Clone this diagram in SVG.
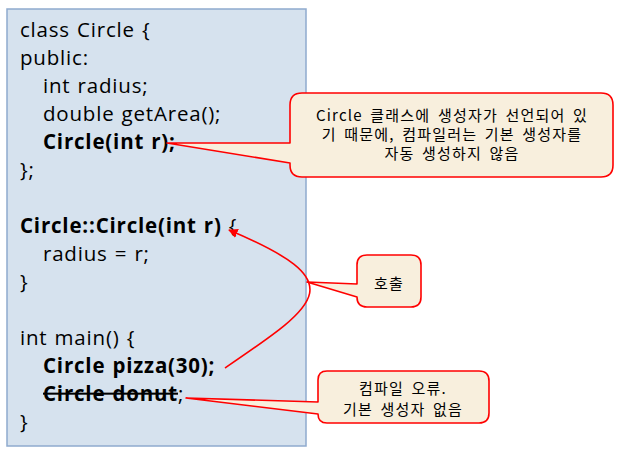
<svg xmlns="http://www.w3.org/2000/svg" width="618" height="463" viewBox="0 0 618 463">
<style>
.code{font-family:"Open Sans","Liberation Sans",sans-serif;font-size:20.5px;fill:#000;letter-spacing:0.8px;word-spacing:1px}
.b{font-weight:bold}
.ko{font-family:"Noto Sans CJK KR","Noto Sans",sans-serif;font-size:15px;fill:#000;letter-spacing:1.2px;word-spacing:3px;text-anchor:middle}
.callout{fill:#F8EFDD;stroke:#FF0000;stroke-width:1.6;stroke-linejoin:round}
.conn{fill:none;stroke:#FF0000;stroke-width:1.6}
</style>
<defs>
<marker id="ah" viewBox="0 0 10 10" refX="9" refY="5" markerWidth="6" markerHeight="6" orient="auto" markerUnits="strokeWidth">
<path d="M0,0 L10,5 L0,10 Z" fill="#FF0000"/>
</marker>
</defs>
<rect width="618" height="463" fill="#FFFFFF"/>
<g id="code">
<rect x="7" y="9" width="299" height="437" fill="#D6E2EE" stroke="#8FAACE" stroke-width="1.5"/>
<text class="code" x="20" y="37">class Circle {</text>
<text class="code" x="20" y="65">public:</text>
<text class="code" x="43" y="93">int radius;</text>
<text class="code" x="43" y="121">double getArea();</text>
<text class="code b" x="43" y="149">Circle(int r);</text>
<text class="code" x="20" y="177">};</text>
<text class="code" x="20" y="233"><tspan class="b">Circle::Circle(int r)</tspan> {</text>
<text class="code" x="43" y="261">radius = r;</text>
<text class="code" x="20" y="289">}</text>
<text class="code" x="20" y="345">int main() {</text>
<text class="code b" x="43" y="373">Circle pizza(30);</text>
<text class="code" x="43" y="401"><tspan class="b" text-decoration="line-through">Circle donut</tspan>;</text>
<text class="code" x="20" y="429">}</text>
</g>
<g id="connectors">
<path class="conn" d="M225,368 C322,302 352,282 229,230" marker-end="url(#ah)"/>
</g>
<g id="note-default-ctor">
<path class="callout" d="M302,93 H601 Q613,93 613,105 V165 Q613,177 601,177 H302 Q290,177 290,165 V163 L167,143 L290,143 V105 Q290,93 302,93 Z"/>
<text class="ko" x="452" y="121">Circle 클래스에 생성자가 선언되어 있</text>
<text class="ko" x="452" y="140">기 때문에, 컴파일러는 기본 생성자를</text>
<text class="ko" x="452" y="159">자동 생성하지 않음</text>
</g>
<g id="note-call">
<path class="callout" d="M367,255 H411 Q421,255 421,265 V297 Q421,307 411,307 H367 Q357,307 357,297 L307,282 L357,284 V265 Q357,255 367,255 Z"/>
<text class="ko" x="389" y="289">호출</text>
</g>
<g id="note-error">
<path class="callout" d="M328,371 H479 Q489,371 489,381 V413 Q489,423 479,423 H327 Q318,423 318,414 L186,398 L318,402 V380 Q318,371 327,371 Z"/>
<text class="ko" x="403" y="394">컴파일 오류.</text>
<text class="ko" x="403" y="415">기본 생성자 없음</text>
</g>
</svg>
